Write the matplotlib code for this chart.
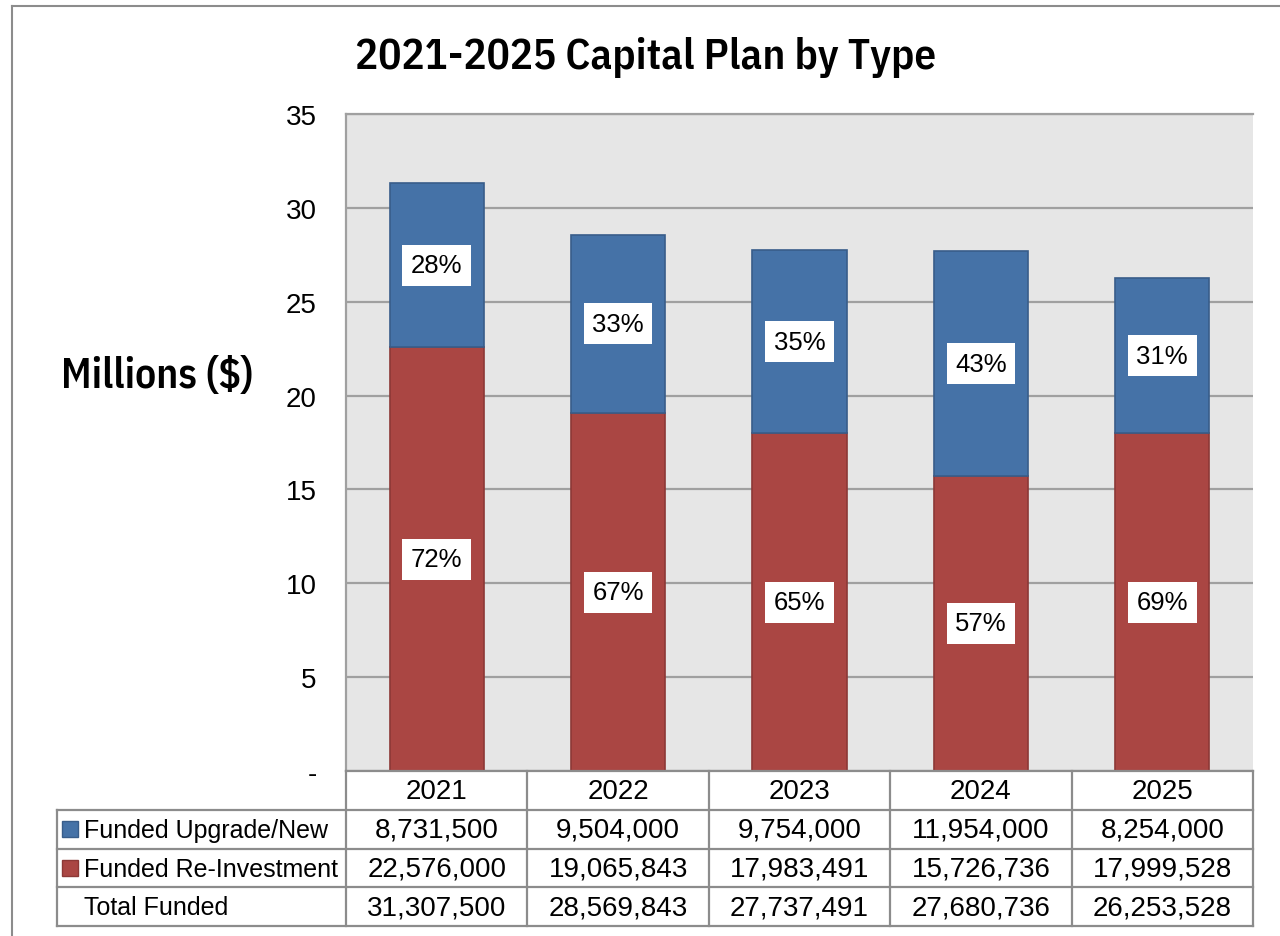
import matplotlib
matplotlib.use("Agg")
import matplotlib.pyplot as plt
from matplotlib.lines import Line2D
import numpy as np

# datos
years = ["2021", "2022", "2023", "2024", "2025"]
upgrade_new = [8731500, 9504000, 9754000, 11954000, 8254000]
reinvestment = [22576000, 19065843, 17983491, 15726736, 17999528]
total_funded = [31307500, 28569843, 27737491, 27680736, 26253528]
pct_upgrade = ["28%", "33%", "35%", "43%", "31%"]
pct_reinv = ["72%", "67%", "65%", "57%", "69%"]
row_labels = ["Funded Upgrade/New", "Funded Re-Investment", "Total Funded"]
y_ticks = [0, 5, 10, 15, 20, 25, 30, 35]
y_tick_labels = ["-", "5", "10", "15", "20", "25", "30", "35"]

BLUE = "#4572A7"
BLUE_EDGE = "#385D8A"
RED = "#AA4643"
RED_EDGE = "#8C3836"
GRID = "#A0A0A0"
FRAME = "#8C8C8C"
NARROW = ['IBM Plex Sans Condensed', 'Archivo Narrow', 'DejaVu Sans']

W, H = 1280, 937
plt.rcParams['font.family'] = ['Liberation Sans', 'DejaVu Sans']
fig = plt.figure(figsize=(W / 100, H / 100), dpi=100)


def px_box(x0, y0, x1, y1):
    # caja en pixeles (origen arriba a la izquierda) -> coordenadas de figura
    return [x0 / W, 1 - y1 / H, (x1 - x0) / W, (y1 - y0) / H]


# marco exterior
fig.add_artist(Line2D([12 / W, 12 / W], [0, 1 - 7 / H], color=FRAME, lw=1.5,
                      transform=fig.transFigure))
fig.add_artist(Line2D([12 / W, 1], [1 - 7 / H, 1 - 7 / H], color=FRAME, lw=1.5,
                      transform=fig.transFigure))

fig.text(646 / W, 1 - 57 / H, "2021-2025 Capital Plan by Type",
         family=NARROW, fontweight=600, fontsize=31, ha='center', va='center')

# grafico de barras
ax = fig.add_axes(px_box(346, 115, 1253, 772))
ax.set_facecolor("#E6E6E6")
x = np.arange(len(years))
up_m = np.array(upgrade_new) / 1e6
re_m = np.array(reinvestment) / 1e6
ax.bar(x, re_m, width=0.52, color=RED, edgecolor=RED_EDGE, linewidth=1.2, zorder=3)
ax.bar(x, up_m, width=0.52, bottom=re_m, color=BLUE, edgecolor=BLUE_EDGE,
       linewidth=1.2, zorder=3)

box = dict(boxstyle='square,pad=0.33', facecolor='white', edgecolor='none')
for i in range(len(years)):
    ax.text(x[i], re_m[i] / 2, pct_reinv[i], ha='center', va='center',
            fontsize=18.5, bbox=box, zorder=4)
    ax.text(x[i], re_m[i] + up_m[i] / 2, pct_upgrade[i], ha='center',
            va='center', fontsize=18.5, bbox=box, zorder=4)

ax.set_xlim(-0.5, len(years) - 0.5)
ax.set_ylim(0, 35)
ax.set_yticks(y_ticks)
ax.set_yticklabels(y_tick_labels, fontsize=20)
ax.set_xticks([])
ax.tick_params(axis='y', length=0, pad=21)
ax.yaxis.grid(True, color=GRID, lw=1.6, zorder=0)
for s in ['left', 'top']:
    ax.spines[s].set_color(GRID)
    ax.spines[s].set_linewidth(1.6)
ax.spines['right'].set_visible(False)
ax.spines['bottom'].set_visible(False)

fig.text(157 / W, 1 - 376 / H, "Millions ($)",
         family=NARROW, fontweight=600, fontsize=30, ha='center', va='center')

# tabla de datos
lab_w = (346 - 57) / ((1253 - 346) / len(years))
tax = fig.add_axes(px_box(57, 772, 1253, 927))
tax.set_xlim(-lab_w, len(years))
tax.set_ylim(4, 0)
tax.axis('off')
lk = dict(color=FRAME, lw=1.6, solid_capstyle='projecting', clip_on=False)
tax.plot([0, len(years)], [0, 0], **lk)
for r in range(1, 5):
    tax.plot([-lab_w, len(years)], [r, r], **lk)
tax.plot([-lab_w, -lab_w], [1, 4], **lk)
for c in range(len(years) + 1):
    tax.plot([c, c], [0, 4], **lk)

fs = 20
for i, yr in enumerate(years):
    tax.text(i + 0.5, 0.52, yr, ha='center', va='center', fontsize=fs)
    tax.text(i + 0.5, 1.52, f"{upgrade_new[i]:,}", ha='center', va='center', fontsize=fs)
    tax.text(i + 0.5, 2.52, f"{reinvestment[i]:,}", ha='center', va='center', fontsize=fs)
    tax.text(i + 0.5, 3.52, f"{total_funded[i]:,}", ha='center', va='center', fontsize=fs)

sq_x = -lab_w + 13 / 181.4
txt_x = -lab_w + 27 / 181.4
tax.plot(sq_x, 1.5, 's', ms=11, color=BLUE, mec=BLUE_EDGE, mew=1, clip_on=False)
tax.plot(sq_x, 2.5, 's', ms=11, color=RED, mec=RED_EDGE, mew=1, clip_on=False)
for r, lab in enumerate(row_labels):
    tax.text(txt_x, r + 1.52, lab, ha='left', va='center', fontsize=18)

fig.savefig("out.png", dpi=100)
